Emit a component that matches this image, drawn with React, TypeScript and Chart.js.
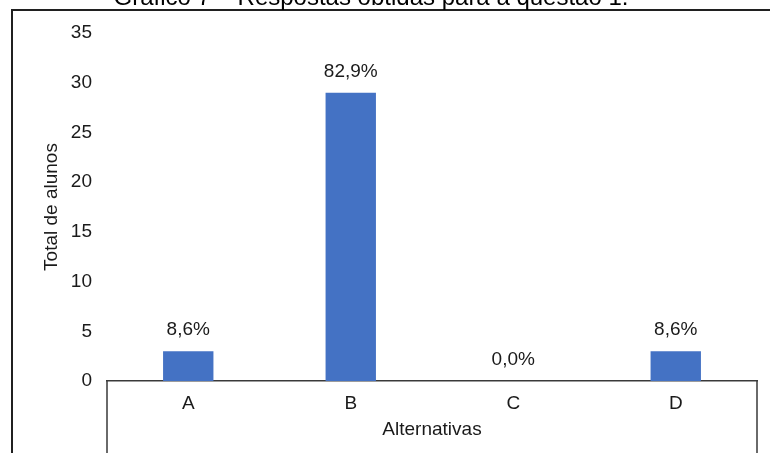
import React, { useEffect, useRef } from "react";
import { Chart, registerables } from "chart.js";

Chart.register(...registerables);

// Respostas por alternativa (número de alunos)
const categories: string[] = ["A", "B", "C", "D"];
const answers: number[] = [3, 29, 0, 3];

// Eixo vertical
const yMin = 0;
const yMax = 35;
const yStep = 5;

const chartTitle = "Gráfico 7 – Respostas obtidas para a questão 1.";
const xAxisTitle = "Alternativas";
const yAxisTitle = "Total de alunos";

const FONT = "'Liberation Sans', Arial, sans-serif";
const TEXT = "#1a1a1a";
const LINE = "#3a3a3a";

const pctLabel = (v: number, total: number) =>
  (total ? (v / total) * 100 : 0).toFixed(1).replace(".", ",") + "%";

const framePlugin = {
  id: "frame",
  beforeDraw(chart: Chart) {
    const { ctx, width, height } = chart;
    ctx.save();
    ctx.fillStyle = "#ffffff";
    ctx.fillRect(0, 0, width, height);
    // moldura externa (esquerda e topo)
    ctx.strokeStyle = "#202020";
    ctx.lineWidth = 2;
    ctx.beginPath();
    ctx.moveTo(12, height);
    ctx.lineTo(12, 10);
    ctx.lineTo(width, 10);
    ctx.stroke();
    // título do gráfico
    ctx.fillStyle = "#000000";
    ctx.font = `24px ${FONT}`;
    ctx.textAlign = "center";
    ctx.textBaseline = "alphabetic";
    ctx.fillText(chartTitle, 371, 4.5);
    ctx.restore();
  },
  afterDatasetsDraw(chart: Chart) {
    const { ctx } = chart;
    const meta = chart.getDatasetMeta(0);
    const values = chart.data.datasets[0].data as number[];
    const total = values.reduce((a, b) => a + b, 0);
    ctx.save();
    ctx.fillStyle = TEXT;
    ctx.font = `19px ${FONT}`;
    ctx.textAlign = "center";
    ctx.textBaseline = "alphabetic";
    meta.data.forEach((el: any, i: number) => {
      ctx.fillText(pctLabel(values[i], total), el.x, el.y - 16);
    });
    ctx.restore();
  },
  afterDraw(chart: Chart) {
    const { ctx, chartArea, height } = chart;
    ctx.save();
    ctx.strokeStyle = LINE;
    ctx.lineWidth = 1.5;
    ctx.beginPath();
    ctx.moveTo(chartArea.left, chartArea.bottom);
    ctx.lineTo(chartArea.left, height);
    ctx.moveTo(chartArea.right, chartArea.bottom);
    ctx.lineTo(chartArea.right, height);
    ctx.stroke();
    ctx.restore();
  },
};

export default function App() {
  const canvasRef = useRef<HTMLCanvasElement | null>(null);

  useEffect(() => {
    if (!canvasRef.current) return;
    const chart = new Chart(canvasRef.current, {
      type: "bar",
      data: {
        labels: categories,
        datasets: [
          {
            data: answers,
            backgroundColor: "#4472C4",
            categoryPercentage: 1,
            barPercentage: 0.31,
          },
        ],
      },
      options: {
        animation: false,
        responsive: true,
        maintainAspectRatio: false,
        devicePixelRatio: 1,
        layout: { padding: { top: 33, right: 13, left: 0, bottom: 0 } },
        plugins: {
          legend: { display: false },
          tooltip: { enabled: false },
          title: { display: false },
        },
        scales: {
          x: {
            type: "category",
            offset: true,
            grid: { display: false, drawTicks: false },
            border: { display: true, color: LINE, width: 1.5 },
            ticks: { color: TEXT, font: { family: FONT, size: 19 }, padding: 11 },
            title: {
              display: true,
              text: xAxisTitle,
              color: TEXT,
              font: { family: FONT, size: 19 },
              padding: { top: 0, bottom: 12 },
            },
            afterFit(scale: any) {
              scale.height = 72;
            },
          },
          y: {
            min: yMin,
            max: yMax,
            grid: { display: false, drawTicks: false },
            border: { display: false },
            ticks: {
              stepSize: yStep,
              color: TEXT,
              font: { family: FONT, size: 19 },
              padding: 15,
            },
            title: {
              display: true,
              text: yAxisTitle,
              color: TEXT,
              font: { family: FONT, size: 19 },
              padding: { top: 40, bottom: 0 },
            },
            afterFit(scale: any) {
              scale.width = 107;
            },
          },
        },
      },
      plugins: [framePlugin],
    });
    return () => chart.destroy();
  }, []);

  return (
    <div style={{ position: "absolute", left: 0, top: 0, width: 770, height: 453 }}>
      <canvas ref={canvasRef} />
    </div>
  );
}
